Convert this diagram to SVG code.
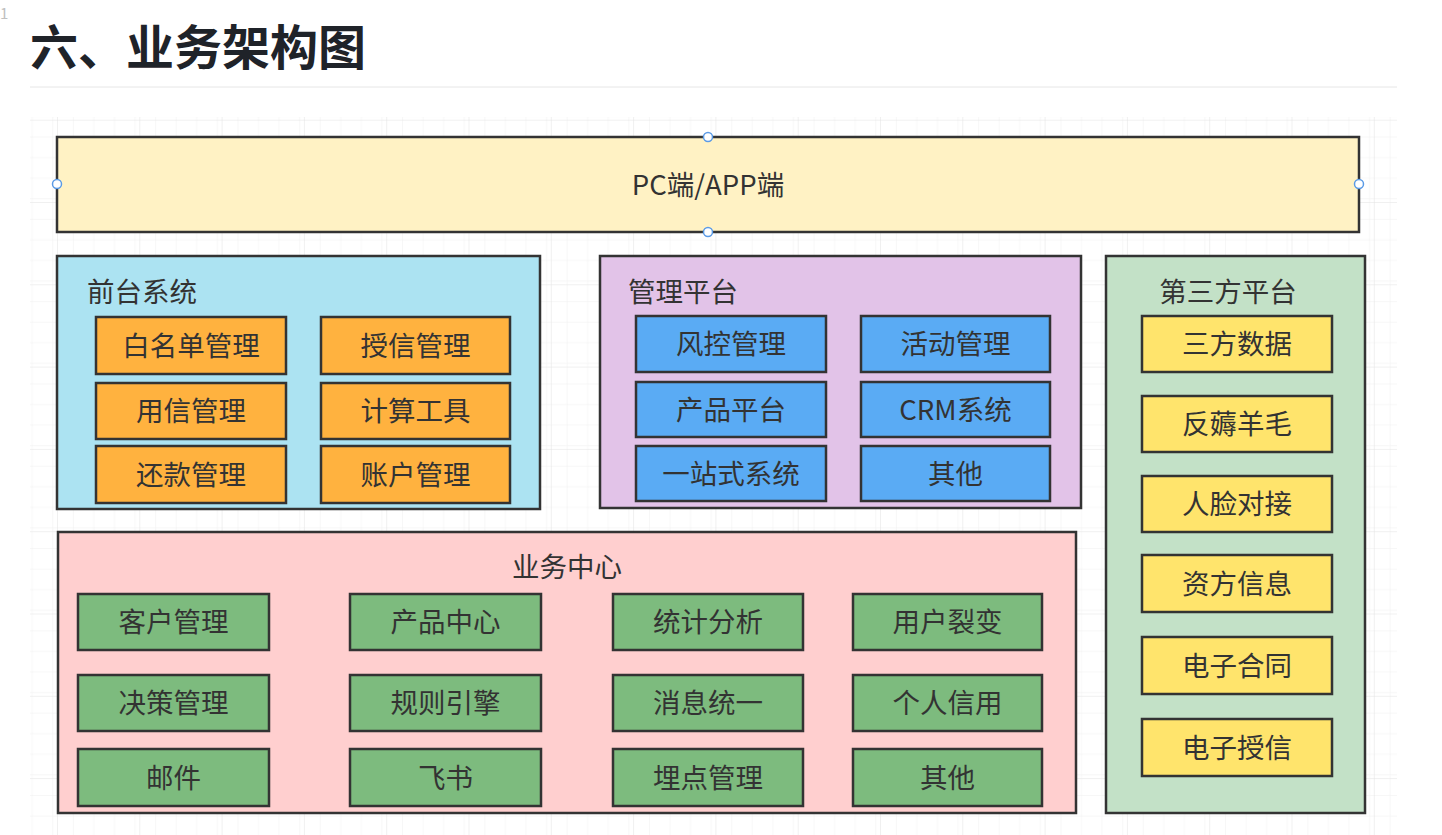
<svg xmlns="http://www.w3.org/2000/svg" width="1442" height="835" viewBox="0 0 1442 835">
  <defs>
    <pattern id="minor" x="57" y="119.7" width="20.575" height="20.575" patternUnits="userSpaceOnUse">
      <path d="M0 0H20.575M0 0V20.575" fill="none" stroke="#f0f0f0" stroke-width="1"/>
    </pattern>
    <pattern id="major" x="57" y="119.7" width="82.3" height="82.3" patternUnits="userSpaceOnUse">
      <rect width="82.3" height="82.3" fill="url(#minor)"/>
      <path d="M0 0H82.3M0 0V82.3" fill="none" stroke="#e2e2e2" stroke-width="1"/>
    </pattern>
    <style>
      text { font-family: "Noto Sans CJK SC", "Liberation Sans", sans-serif; fill: #333333; }
      .box { stroke: #333333; stroke-width: 2.5; }
      .lbl { font-size: 27.5px; text-anchor: middle; }
      .ttl { font-size: 27.5px; }
      .pc { fill: #fff2c4; }
      .front { fill: #ace3f2; }
      .orange { fill: #ffb23f; }
      .mgmt { fill: #e2c3e8; }
      .blue { fill: #5aabf4; }
      .third { fill: #c3e1c7; }
      .yellow { fill: #ffe46c; }
      .biz { fill: #ffcfcf; }
      .green { fill: #7dbb7e; }
      .handle { fill: #ffffff; stroke: #5b9be6; stroke-width: 1.5; }
    </style>
  </defs>

  <rect width="1442" height="835" fill="#ffffff"/>
  <text x="0" y="19" style="font-size:15px;fill:#c0c0c0">1</text>
  <text x="30" y="65" style="font-size:48px;font-weight:bold;fill:#1f2329">六、业务架构图</text>
  <line x1="30" y1="87" x2="1397" y2="87" stroke="#e6e6e6" stroke-width="1"/>
  <rect x="30" y="117" width="1367" height="718" fill="url(#major)"/>

  <g id="connectors"></g>

  <g id="pc-app">
    <rect class="box pc" x="57" y="137" width="1302" height="95"/>
    <text class="lbl" x="708" y="194.5">PC端/APP端</text>
    <circle class="handle" cx="708" cy="137" r="4.5"/>
    <circle class="handle" cx="57" cy="184" r="4.5"/>
    <circle class="handle" cx="1359" cy="184" r="4.5"/>
    <circle class="handle" cx="708" cy="232" r="4.5"/>
  </g>

  <g id="front-system">
    <rect class="box front" x="57" y="256" width="483" height="253"/>
    <text class="ttl" x="87" y="302">前台系统</text>
    <g id="f-whitelist"><rect class="box orange" x="96" y="317" width="190" height="57"/><text class="lbl" x="191" y="355.5">白名单管理</text></g>
    <g id="f-credit"><rect class="box orange" x="321" y="317" width="189" height="57"/><text class="lbl" x="415.5" y="355.5">授信管理</text></g>
    <g id="f-usecredit"><rect class="box orange" x="96" y="383" width="190" height="56"/><text class="lbl" x="191" y="420.5">用信管理</text></g>
    <g id="f-calc"><rect class="box orange" x="321" y="383" width="189" height="56"/><text class="lbl" x="415.5" y="420.5">计算工具</text></g>
    <g id="f-repay"><rect class="box orange" x="96" y="446" width="190" height="57"/><text class="lbl" x="191" y="484.5">还款管理</text></g>
    <g id="f-account"><rect class="box orange" x="321" y="446" width="189" height="57"/><text class="lbl" x="415.5" y="484.5">账户管理</text></g>
  </g>

  <g id="mgmt-platform">
    <rect class="box mgmt" x="600" y="256" width="481" height="252"/>
    <text class="ttl" x="628" y="302">管理平台</text>
    <g id="m-risk"><rect class="box blue" x="636" y="316" width="190" height="56"/><text class="lbl" x="731" y="353.5">风控管理</text></g>
    <g id="m-activity"><rect class="box blue" x="861" y="316" width="189" height="56"/><text class="lbl" x="955.5" y="353.5">活动管理</text></g>
    <g id="m-product"><rect class="box blue" x="636" y="382" width="190" height="55"/><text class="lbl" x="731" y="419.5">产品平台</text></g>
    <g id="m-crm"><rect class="box blue" x="861" y="382" width="189" height="55"/><text class="lbl" x="955.5" y="419.5">CRM系统</text></g>
    <g id="m-onestop"><rect class="box blue" x="636" y="446" width="190" height="55"/><text class="lbl" x="731" y="483.5">一站式系统</text></g>
    <g id="m-other"><rect class="box blue" x="861" y="446" width="189" height="55"/><text class="lbl" x="955.5" y="483.5">其他</text></g>
  </g>

  <g id="third-platform">
    <rect class="box third" x="1106" y="256" width="259" height="557"/>
    <text class="ttl" x="1228" y="302" text-anchor="middle">第三方平台</text>
    <g id="t-data"><rect class="box yellow" x="1142" y="316" width="190" height="56"/><text class="lbl" x="1237" y="353.5">三方数据</text></g>
    <g id="t-anti"><rect class="box yellow" x="1142" y="396" width="190" height="56"/><text class="lbl" x="1237" y="433.5">反薅羊毛</text></g>
    <g id="t-face"><rect class="box yellow" x="1142" y="476" width="190" height="56"/><text class="lbl" x="1237" y="513.5">人脸对接</text></g>
    <g id="t-funder"><rect class="box yellow" x="1142" y="555" width="190" height="57"/><text class="lbl" x="1237" y="593.5">资方信息</text></g>
    <g id="t-contract"><rect class="box yellow" x="1142" y="637" width="190" height="57"/><text class="lbl" x="1237" y="675.5">电子合同</text></g>
    <g id="t-ecredit"><rect class="box yellow" x="1142" y="719" width="190" height="57"/><text class="lbl" x="1237" y="757.5">电子授信</text></g>
  </g>

  <g id="business-center">
    <rect class="box biz" x="58" y="532" width="1018" height="281"/>
    <text class="ttl" x="567" y="577" text-anchor="middle">业务中心</text>
    <g id="b-customer"><rect class="box green" x="78" y="594" width="191" height="56"/><text class="lbl" x="173.5" y="631.5">客户管理</text></g>
    <g id="b-product"><rect class="box green" x="350" y="594" width="191" height="56"/><text class="lbl" x="445.5" y="631.5">产品中心</text></g>
    <g id="b-stats"><rect class="box green" x="613" y="594" width="190" height="56"/><text class="lbl" x="708" y="631.5">统计分析</text></g>
    <g id="b-fission"><rect class="box green" x="853" y="594" width="189" height="56"/><text class="lbl" x="947.5" y="631.5">用户裂变</text></g>
    <g id="b-decision"><rect class="box green" x="78" y="675" width="191" height="56"/><text class="lbl" x="173.5" y="712.5">决策管理</text></g>
    <g id="b-rules"><rect class="box green" x="350" y="675" width="191" height="56"/><text class="lbl" x="445.5" y="712.5">规则引擎</text></g>
    <g id="b-message"><rect class="box green" x="613" y="675" width="190" height="56"/><text class="lbl" x="708" y="712.5">消息统一</text></g>
    <g id="b-personal"><rect class="box green" x="853" y="675" width="189" height="56"/><text class="lbl" x="947.5" y="712.5">个人信用</text></g>
    <g id="b-mail"><rect class="box green" x="78" y="749" width="191" height="57"/><text class="lbl" x="173.5" y="787.5">邮件</text></g>
    <g id="b-feishu"><rect class="box green" x="350" y="749" width="191" height="57"/><text class="lbl" x="445.5" y="787.5">飞书</text></g>
    <g id="b-tracking"><rect class="box green" x="613" y="749" width="190" height="57"/><text class="lbl" x="708" y="787.5">埋点管理</text></g>
    <g id="b-other"><rect class="box green" x="853" y="749" width="189" height="57"/><text class="lbl" x="947.5" y="787.5">其他</text></g>
  </g>
</svg>
